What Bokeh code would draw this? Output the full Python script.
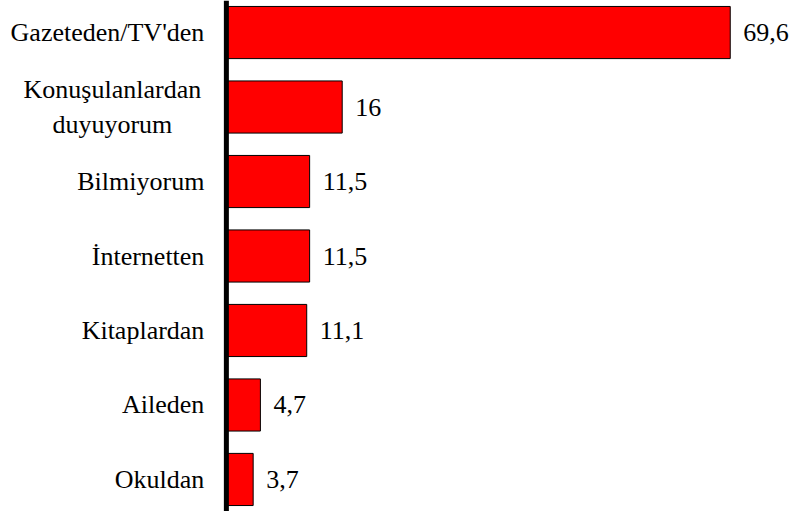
from bokeh.plotting import figure
from bokeh.models import Span, FactorRange
from bokeh.core.properties import value
from bokeh.embed import file_html
from bokeh.resources import INLINE

categories = ["Gazeteden/TV'den", "Konuşulanlardan\nduyuyorum", "Bilmiyorum",
              "İnternetten", "Kitaplardan", "Aileden", "Okuldan"]
values = [69.6, 16, 11.5, 11.5, 11.1, 4.7, 3.7]
value_labels = ["69,6", "16", "11,5", "11,5", "11,1", "4,7", "3,7"]

# multi-line category labels are centred within their block, others right-aligned
aligns = ["center" if "\n" in c else "right" for c in categories]
offsets = [-114 if "\n" in c else -22 for c in categories]
zeros = [0] * len(values)

p = figure(width=792, height=511,
           y_range=FactorRange(factors=categories[::-1], range_padding=-0.07,
                               range_padding_units="absolute"),
           x_range=(-31.2, 78.2),
           output_backend="svg", toolbar_location=None, min_border=0)

p.hbar(y=categories, right=values, left=0, height=0.7,
       fill_color="#ff0000", line_color="black", line_width=1)

p.text(x=zeros, y=categories, text=categories, x_offset=offsets,
       text_align=aligns, text_baseline="middle",
       text_font=value("Liberation Serif"), text_font_size="26px")

p.text(x=values, y=categories, text=value_labels, x_offset=13,
       text_baseline="middle",
       text_font=value("Liberation Serif"), text_font_size="26px")

p.add_layout(Span(location=0, dimension="height", line_color="black", line_width=5))

p.axis.visible = False
p.grid.visible = False
p.outline_line_color = None

open("out.html", "w").write(file_html(p, INLINE))
